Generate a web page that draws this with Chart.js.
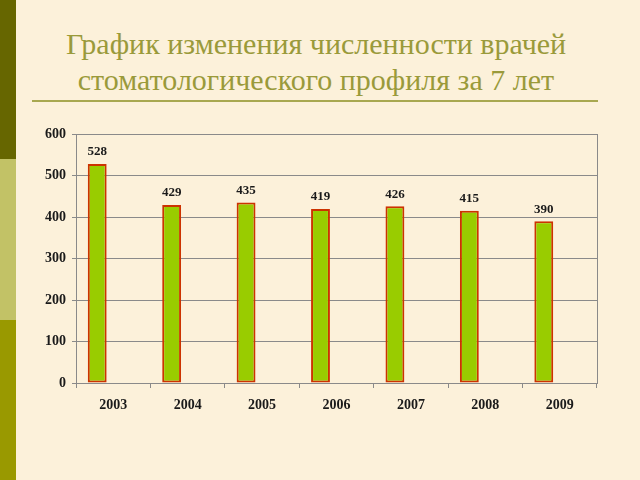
<!DOCTYPE html>
<html>
<head>
<meta charset="utf-8">
<script src="https://cdn.jsdelivr.net/npm/chart.js@4"></script>
<style>
  html, body { margin: 0; padding: 0; }
  body { width: 640px; height: 480px; background: #fcf1da; position: relative; overflow: hidden; }
  .strip { position: absolute; left: 0; width: 16px; }
  #title {
    position: absolute; left: 16px; width: 600px; top: 26px;
    text-align: center; color: #9a9a3a;
    font-family: "Liberation Serif", "DejaVu Serif", serif; font-size: 30px; line-height: 36px;
  }
  #rule { position: absolute; left: 32px; width: 566px; top: 100px; height: 2px; background: #a8a850; }
  #wrap { position: absolute; left: 0; top: 0; width: 640px; height: 480px; }
</style>
</head>
<body>
<div class="strip" style="top:0;height:159px;background:#666600"></div>
<div class="strip" style="top:159px;height:161px;background:#c2c266"></div>
<div class="strip" style="top:320px;height:160px;background:#999900"></div>
<div id="title">График изменения численности врачей<br>стоматологического профиля за 7 лет</div>
<div id="rule"></div>
<div id="wrap"><canvas id="chart"></canvas></div>
<script>
const years = ['2003', '2004', '2005', '2006', '2007', '2008', '2009'];
const doctors = [528, 429, 435, 419, 426, 415, 390];
const yTicks = [0, 100, 200, 300, 400, 500, 600];

const tickFont = { family: 'Liberation Serif', size: 14, weight: 'bold' };

// value labels above the bars + right border of the plot
const barLabels = {
    id: 'barLabels',
    afterDatasetsDraw(chart) {
        const ctx = chart.ctx;
        const area = chart.chartArea;
        ctx.save();
        ctx.strokeStyle = '#8a8a8a';
        ctx.lineWidth = 1;
        ctx.beginPath();
        ctx.moveTo(Math.round(area.right) + 0.5, area.top);
        ctx.lineTo(Math.round(area.right) + 0.5, area.bottom);
        ctx.stroke();

        ctx.font = 'bold 13px "Liberation Serif"';
        ctx.fillStyle = '#1a1a1a';
        ctx.textAlign = 'center';
        ctx.textBaseline = 'middle';
        chart.getDatasetMeta(0).data.forEach((bar, i) => {
            ctx.fillText(doctors[i], bar.x, bar.y - 12);
        });
        ctx.restore();
    }
};

new Chart(document.getElementById('chart'), {
    type: 'bar',
    data: {
        labels: years,
        datasets: [{
            label: 'Врачи',
            data: doctors,
            backgroundColor: '#99cc00',
            borderColor: '#cc3300',
            borderWidth: 2,
            borderSkipped: false,
            categoryPercentage: 0.86,
            barPercentage: 0.59
        }, {
            // empty second series, keeps the bars shifted to the left as in the original
            label: '',
            data: [],
            categoryPercentage: 0.86,
            barPercentage: 0.59
        }]
    },
    options: {
        responsive: true,
        maintainAspectRatio: false,
        animation: false,
        layout: { padding: { left: 36, right: 43, top: 134, bottom: 0 } },
        plugins: {
            legend: { display: false },
            title: { display: false },
            tooltip: { enabled: false }
        },
        scales: {
            x: {
                grid: { offset: true, drawOnChartArea: false, drawTicks: true, tickLength: 5, color: '#8a8a8a' },
                border: { color: '#8a8a8a' },
                ticks: { font: tickFont, color: '#1a1a1a', padding: 9 },
                afterFit(scale) { scale.height = 97; }
            },
            y: {
                min: 0,
                max: 600,
                afterBuildTicks(scale) { scale.ticks = yTicks.map(v => ({ value: v })); },
                grid: { color: '#8a8a8a', tickLength: 4 },
                border: { color: '#8a8a8a' },
                ticks: { font: tickFont, color: '#1a1a1a', padding: 6 },
                afterFit(scale) { scale.width = 40; }
            }
        }
    },
    plugins: [barLabels]
});
</script>
</body>
</html>
